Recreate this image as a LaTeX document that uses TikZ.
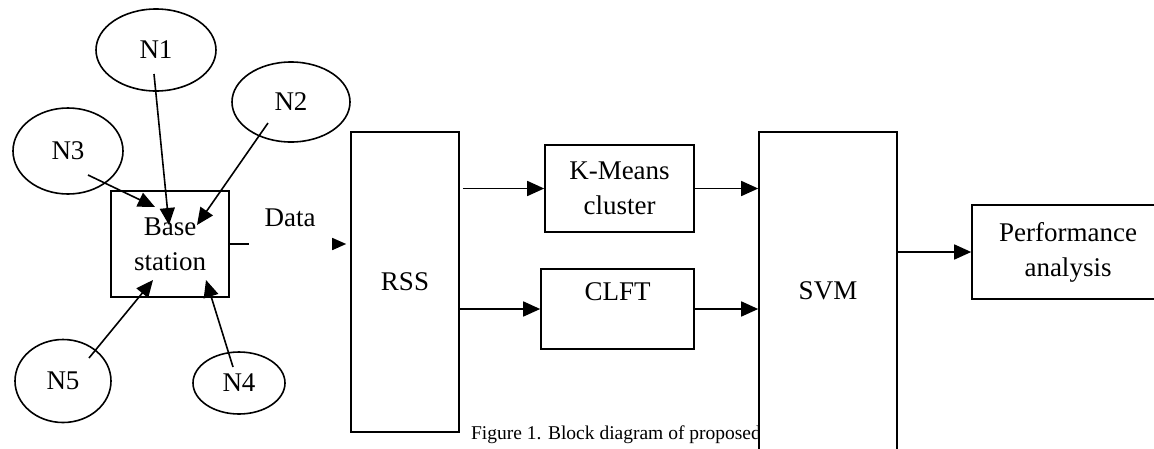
\documentclass[tikz,border=0pt]{standalone}
\usepackage{fontspec}
\setmainfont{Liberation Serif}
\usepackage{tikz}
\usetikzlibrary{arrows.meta,shapes.geometric}

\begin{document}
\begin{tikzpicture}[x=1pt, y=-1pt,
        every node/.style={font=\fontsize{27}{35}\selectfont, line width=1.6pt},
        blk/.style={draw, rectangle, align=center, inner sep=0pt},
        sensor/.style={draw, ellipse, inner sep=0pt},
        arr/.style={line width=1.6pt, -{Triangle[length=17pt, width=15pt]}}]
        \useasboundingbox (0,0) rectangle (1154,448);
        % sensor nodes round the base station
        \node[sensor, minimum width=120, minimum height=82] (n1) at (156,50) {N1};
        \node[sensor, minimum width=118, minimum height=80] (n2) at (291,102) {N2};
        \node[sensor, minimum width=110, minimum height=86] (n3) at (68,151) {N3};
        \node[sensor, minimum width=96, minimum height=83] (n5) at (63,381) {N5};
        \node[sensor, minimum width=92, minimum height=62] (n4) at (239,383) {N4};
        \node[blk, minimum width=118, minimum height=106] (bs) at (170,244) {Base\\station};
        \draw[arr] ([shift={(-2,24)}]n1.center) -- ([shift={(-1,-19)}]bs.center);
        \draw[arr] ([shift={(-23,21)}]n2.center) -- ([shift={(27,-19)}]bs.center);
        \draw[arr] ([shift={(20,24)}]n3.center) -- ([shift={(-15,-37)}]bs.center);
        \draw[arr] ([shift={(26,-23)}]n5.center) -- ([shift={(-17,36)}]bs.center);
        \draw[arr] ([shift={(-6,-16)}]n4.center) -- ([shift={(36,36)}]bs.center);
        % processing chain
        \node[blk, minimum width=108, minimum height=300] (rss) at (405,282) {RSS};
        \node (data) at (290,218) {Data};
        \coordinate (dend) at (249,244);
        \coordinate (dhead) at (333,244);
        \draw[line width=1.6pt] (bs.east) -- (dend);
        \draw[line width=1.6pt, -{Triangle[length=14pt, width=12pt]}, shorten >=4pt] (dhead) -- (rss.west |- dhead);
        \node[blk, minimum width=149, minimum height=87] (km) at (619.5,188.5) {K-Means\\cluster};
        \node[blk, minimum width=153, minimum height=80] (clft) at (617.5,309) {CLFT\\\mbox{}};
        \node[anchor=west, font=\fontsize{19.5}{21}\selectfont] (cap) at (467,435) {Figure 1. Block diagram of proposed};
        \node[blk, fill=white, minimum width=138, minimum height=318] (svm) at (828,291) {SVM};
        \node[blk, minimum width=192, minimum height=94] (perf) at (1068,252) {Performance\\analysis};
        \draw[arr] ([xshift=3pt]rss.east |- km.west) -- (km.west);
        \draw[arr] (rss.east |- clft.west) -- (clft.west);
        \draw[arr] (km.east) -- (km.east -| svm.west);
        \draw[arr] (clft.east) -- (clft.east -| svm.west);
        \draw[arr] (svm.east |- perf.west) -- (perf.west);
    \end{tikzpicture}
\end{document}
